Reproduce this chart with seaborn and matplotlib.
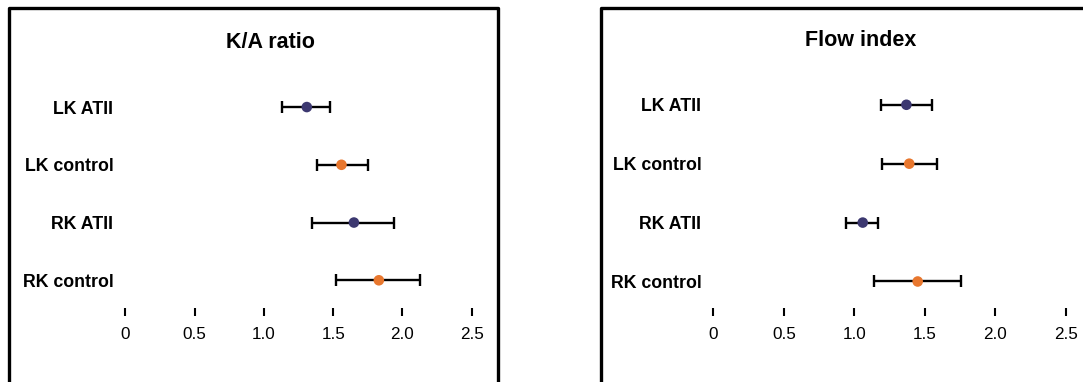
import numpy as np
import pandas as pd
import matplotlib
matplotlib.use("Agg")
import matplotlib.pyplot as plt
from matplotlib.patches import Rectangle
import seaborn as sns

# ---- data ----
categories = ["LK ATII", "LK control", "RK ATII", "RK control"]
groups = ["ATII", "control", "ATII", "control"]

ka_mean = [1.31, 1.56, 1.65, 1.83]
ka_lo = [1.13, 1.38, 1.35, 1.52]
ka_hi = [1.48, 1.75, 1.94, 2.13]

flow_mean = [1.37, 1.39, 1.06, 1.45]
flow_lo = [1.19, 1.20, 0.94, 1.14]
flow_hi = [1.55, 1.59, 1.17, 1.76]

titles = ["K/A ratio", "Flow index"]
xticks = [0, 0.5, 1.0, 1.5, 2.0, 2.5]
xticklabels = ["0", "0.5", "1.0", "1.5", "2.0", "2.5"]

palette = {"ATII": "#3c3870", "control": "#e8772e"}

sns.set_theme(style="white")
plt.rcParams["font.family"] = ["Liberation Sans", "DejaVu Sans"]

W, H = 1083, 382
fig = plt.figure(figsize=(W / 100, H / 100), dpi=100)
fig.patch.set_facecolor("white")


def px_axes(l, r, t, b):
    return fig.add_axes([l / W, 1 - b / H, (r - l) / W, (b - t) / H])


# frames (panel boxes, cut off at bottom / right like the reference)
fig.add_artist(Rectangle((9 / W, 1 - 420 / H), (498 - 9) / W, (420 - 7.5) / H,
                         transform=fig.transFigure, fill=False, lw=2.4,
                         ec="black", joinstyle="round"))
fig.add_artist(Rectangle((600.5 / W, 1 - 420 / H), (1120 - 600.5) / W, (420 - 7.5) / H,
                         transform=fig.transFigure, fill=False, lw=2.4,
                         ec="black", joinstyle="round"))

panels = [
    (ka_mean, ka_lo, ka_hi, (125.3, 471.7), (3.48, -0.815), (270, 43)),
    (flow_mean, flow_lo, flow_hi, (713.3, 1065.7), (3.45, -0.76), (861, 41)),
]

for (mean, lo, hi, (xl, xr), ylim, (tx, ty)), title in zip(panels, titles):
    ax = px_axes(xl, xr, 60, 308)
    ax.set_facecolor("none")
    df = pd.DataFrame({"category": categories, "group": groups,
                       "mean": mean, "lo": lo, "hi": hi})
    ax.errorbar(df["mean"], np.arange(len(categories)),
                xerr=[df["mean"] - df["lo"], df["hi"] - df["mean"]],
                fmt="none", ecolor="black", elinewidth=1.7, capsize=4,
                capthick=1.7, zorder=2, clip_on=False)
    sns.scatterplot(data=df, x="mean", y="category", hue="group",
                    palette=palette, s=58, edgecolor="none", legend=False,
                    zorder=3, ax=ax, clip_on=False)
    ax.set_xlim(0, 2.5)
    ax.set_ylim(*ylim)
    ax.set_xticks(xticks)
    ax.set_xticklabels(xticklabels)
    ax.set_yticks(range(len(categories)))
    ax.set_yticklabels(categories, fontweight="bold")
    ax.set_xlabel("")
    ax.set_ylabel("")
    for s in ax.spines.values():
        s.set_visible(False)
    ax.tick_params(axis="x", bottom=True, length=5.8, width=1.5, pad=8,
                   labelsize=12.3, color="black", labelcolor="black", direction="out")
    ax.tick_params(axis="y", left=False, length=0, pad=8.6, labelsize=12.8,
                   labelcolor="black")
    ax.grid(False)
    fig.text(tx / W, 1 - ty / H, title, ha="center", va="center",
             fontsize=15.5, fontweight="bold", color="black")

fig.savefig("out.png", dpi=100)
